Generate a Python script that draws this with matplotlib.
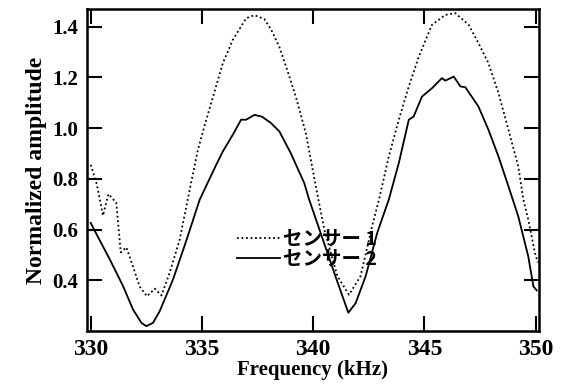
import matplotlib
matplotlib.use("Agg")
import matplotlib.pyplot as plt

# Sensor 1 (dotted)
freq1 = [330.0, 330.27, 330.55, 330.8, 331.15, 331.35, 331.6, 331.84, 332.2, 332.53,
         332.88, 333.18, 333.55, 334.0, 334.45, 334.82, 335.12, 335.5, 335.94, 336.39,
         336.99, 337.36, 337.8, 338.1, 338.48, 338.78, 339.22, 339.67, 340.12, 340.5,
         341.09, 341.61, 342.13, 342.65, 342.96, 343.4, 343.85, 344.3, 344.75, 345.34,
         345.94, 346.39, 346.99, 347.43, 347.88, 348.33, 348.78, 349.22, 349.45, 349.67,
         349.97, 350.1]
amp1 = [0.855, 0.78, 0.655, 0.74, 0.705, 0.51, 0.53, 0.47, 0.375, 0.337,
        0.367, 0.34, 0.43, 0.56, 0.757, 0.915, 1.01, 1.124, 1.256, 1.348,
        1.433, 1.445, 1.43, 1.39, 1.32, 1.243, 1.124, 0.98, 0.77, 0.60,
        0.416, 0.343, 0.416, 0.613, 0.718, 0.888, 1.033, 1.164, 1.282, 1.407,
        1.446, 1.453, 1.407, 1.335, 1.256, 1.138, 0.993, 0.849, 0.718, 0.639,
        0.508, 0.47]

# Sensor 2 (solid)
freq2 = [330.0, 330.27, 330.86, 331.46, 331.9, 332.28, 332.5, 332.8, 333.1, 333.7,
         334.3, 334.9, 335.64, 335.94, 336.39, 336.76, 336.99, 337.36, 337.7, 338.1,
         338.48, 339.0, 339.6, 339.82, 340.4, 341.0, 341.58, 341.91, 342.36, 342.88,
         343.4, 343.85, 344.3, 344.52, 344.89, 345.34, 345.79, 345.94, 346.32, 346.62,
         346.84, 347.43, 347.88, 348.33, 348.78, 349.22, 349.67, 349.9, 350.05]
amp2 = [0.626, 0.58, 0.482, 0.376, 0.285, 0.232, 0.219, 0.232, 0.278, 0.403,
        0.557, 0.718, 0.855, 0.908, 0.974, 1.033, 1.033, 1.052, 1.045, 1.02,
        0.987, 0.90, 0.783, 0.718, 0.57, 0.416, 0.272, 0.31, 0.416, 0.587,
        0.718, 0.862, 1.033, 1.046, 1.124, 1.157, 1.197, 1.187, 1.203, 1.164,
        1.161, 1.085, 0.993, 0.888, 0.77, 0.652, 0.494, 0.376, 0.36]

labels = ["センサー 1", "センサー 2"]
xticks = [330, 335, 340, 345, 350]
yticks = [0.4, 0.6, 0.8, 1.0, 1.2, 1.4]

serif = "Liberation Serif"

fig = plt.figure(figsize=(5.66, 3.88), dpi=100)
ax = fig.add_axes([0.1532, 0.1469, 0.799, 0.829])

ax.plot(freq1, amp1, color="black", linestyle=(0, (1, 1.5)), linewidth=1.3, label=labels[0])
ax.plot(freq2, amp2, color="black", linestyle="-", linewidth=1.3, label=labels[1])

ax.set_xlim(329.82, 350.15)
ax.set_ylim(0.2, 1.468)
ax.set_xticks(xticks)
ax.set_yticks(yticks)
ax.set_xticklabels([str(t) for t in xticks], fontfamily=serif, fontweight="bold", fontsize=17)
ax.set_yticklabels(["%.1f" % t for t in yticks], fontfamily=serif, fontweight="bold", fontsize=15)
ax.tick_params(axis="both", direction="in", length=11, width=1.5, top=True, right=True)
ax.tick_params(axis="x", pad=6)
ax.tick_params(axis="y", pad=6)
for s in ax.spines.values():
    s.set_linewidth(1.8)

ax.set_xlabel("Frequency (kHz)", fontfamily=serif, fontweight="bold", fontsize=15, labelpad=0)
ax.set_ylabel("Normalized amplitude", fontfamily=serif, fontweight="bold", fontsize=17, labelpad=4)

leg = ax.legend(loc="center left", bbox_to_anchor=(237 / 566, (388 - 249) / 388),
                bbox_transform=fig.transFigure, frameon=False,
                prop={"family": ["Noto Sans CJK JP", "DejaVu Sans"], "size": 14, "weight": "bold"},
                handlelength=2.2, handletextpad=0.15, labelspacing=0.05,
                borderpad=0, borderaxespad=0)

fig.savefig("out.png", dpi=100)
